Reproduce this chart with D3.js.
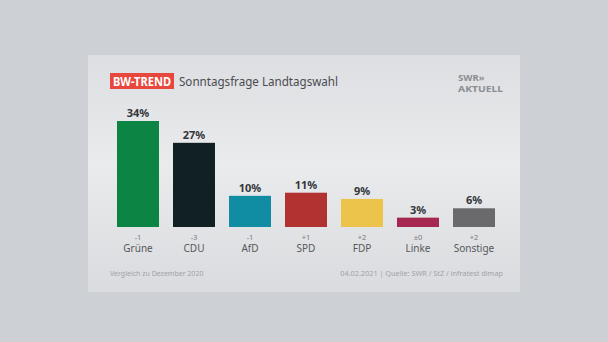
<!DOCTYPE html>
<html>
<head>
<meta charset="utf-8">
<script src="https://cdn.jsdelivr.net/npm/d3@7"></script>
<style>
  html, body { margin: 0; padding: 0; background: #cdd0d4; }
  svg { display: block; }
</style>
</head>
<body>
<div id="chart"></div>
<script>
const parties = ["Grüne", "CDU", "AfD", "SPD", "FDP", "Linke", "Sonstige"];
const shares = [34, 27, 10, 11, 9, 3, 6];
const changes = ["-1", "-3", "-1", "+1", "+2", "±0", "+2"];
const partyColors = ["#0b8444", "#112022", "#108ca3", "#b13230", "#ecc34b", "#a62851", "#6a6a6c"];

const W = 608, H = 342;
const font = "'Noto Sans', 'Open Sans', sans-serif";

const svg = d3.select("#chart").append("svg")
  .attr("width", W)
  .attr("height", H)
  .style("font-family", font);

const defs = svg.append("defs");
const grad = defs.append("linearGradient")
  .attr("id", "panelGrad")
  .attr("x1", 0).attr("y1", 0).attr("x2", 0).attr("y2", 1);
grad.append("stop").attr("offset", "0%").attr("stop-color", "#dcdee1");
grad.append("stop").attr("offset", "45%").attr("stop-color", "#eaebed");
grad.append("stop").attr("offset", "100%").attr("stop-color", "#d9dbde");

// background + panel
svg.append("rect").attr("width", W).attr("height", H).attr("fill", "#cdd0d4");
svg.append("rect")
  .attr("x", 88).attr("y", 55)
  .attr("width", 432).attr("height", 237)
  .attr("fill", "url(#panelGrad)");

// header
svg.append("rect")
  .attr("x", 110).attr("y", 73)
  .attr("width", 64).attr("height", 16)
  .attr("fill", "#e8473e");
svg.append("text")
  .attr("x", 142).attr("y", 85.5)
  .attr("text-anchor", "middle")
  .attr("fill", "#fff")
  .attr("font-size", 12)
  .attr("font-weight", "bold")
  .attr("textLength", 58)
  .attr("lengthAdjust", "spacingAndGlyphs")
  .text("BW-TREND");
svg.append("text")
  .attr("x", 179).attr("y", 86)
  .attr("fill", "#4a4c50")
  .attr("font-size", 12.5)
  .attr("textLength", 159)
  .attr("lengthAdjust", "spacingAndGlyphs")
  .text("Sonntagsfrage Landtagswahl");

// logo
const logo = svg.append("g").attr("fill", "#8b8e93").attr("font-weight", "bold");
logo.append("text").attr("x", 458).attr("y", 80.5).attr("font-size", 9.5).text("SWR»");
logo.append("text").attr("x", 458).attr("y", 92).attr("font-size", 9.5)
  .attr("textLength", 45).attr("lengthAdjust", "spacingAndGlyphs").text("AKTUELL");

// scales
const x = d3.scaleBand()
  .domain(parties)
  .range([117, 495])
  .paddingInner(0.25)
  .paddingOuter(0);

const y = d3.scaleLinear()
  .domain([0, 34])
  .range([227, 121]);

const data = parties.map((p, i) => ({ party: p, value: shares[i], change: changes[i], color: partyColors[i] }));

const bars = svg.append("g");
bars.selectAll("rect")
  .data(data)
  .enter()
  .append("rect")
  .attr("x", d => x(d.party))
  .attr("y", d => y(d.value))
  .attr("width", x.bandwidth())
  .attr("height", d => y(0) - y(d.value))
  .attr("fill", d => d.color);

bars.selectAll(".val")
  .data(data)
  .enter()
  .append("text")
  .attr("class", "val")
  .attr("x", d => x(d.party) + x.bandwidth() / 2)
  .attr("y", d => y(d.value) - 4)
  .attr("text-anchor", "middle")
  .attr("fill", "#34363a")
  .attr("font-size", 11)
  .attr("font-weight", "bold")
  .text(d => d.value + "%");

// axis labels
const xAxis = d3.axisBottom(x).tickSize(0).tickPadding(0).tickFormat(() => "");
const axisG = svg.append("g")
  .attr("transform", `translate(0,${y(0)})`)
  .call(xAxis);
axisG.select(".domain").remove();

axisG.selectAll(".tick").each(function (p, i) {
  const t = d3.select(this);
  t.append("text")
    .attr("y", 12.5)
    .attr("text-anchor", "middle")
    .attr("fill", "#75787d")
    .attr("font-size", 7.5)
    .attr("font-family", font)
    .text(changes[i]);
  t.append("text")
    .attr("y", 24.5)
    .attr("text-anchor", "middle")
    .attr("fill", "#55585c")
    .attr("font-size", 10)
    .attr("font-family", font)
    .text(p);
});

// footer
svg.append("text")
  .attr("x", 110).attr("y", 276)
  .attr("fill", "#a0a3a8")
  .attr("font-size", 7)
  .text("Vergleich zu Dezember 2020");
svg.append("text")
  .attr("x", 503).attr("y", 276)
  .attr("text-anchor", "end")
  .attr("fill", "#a0a3a8")
  .attr("font-size", 7.3)
  .text("04.02.2021 | Quelle: SWR / StZ / infratest dimap");
</script>
</body>
</html>
